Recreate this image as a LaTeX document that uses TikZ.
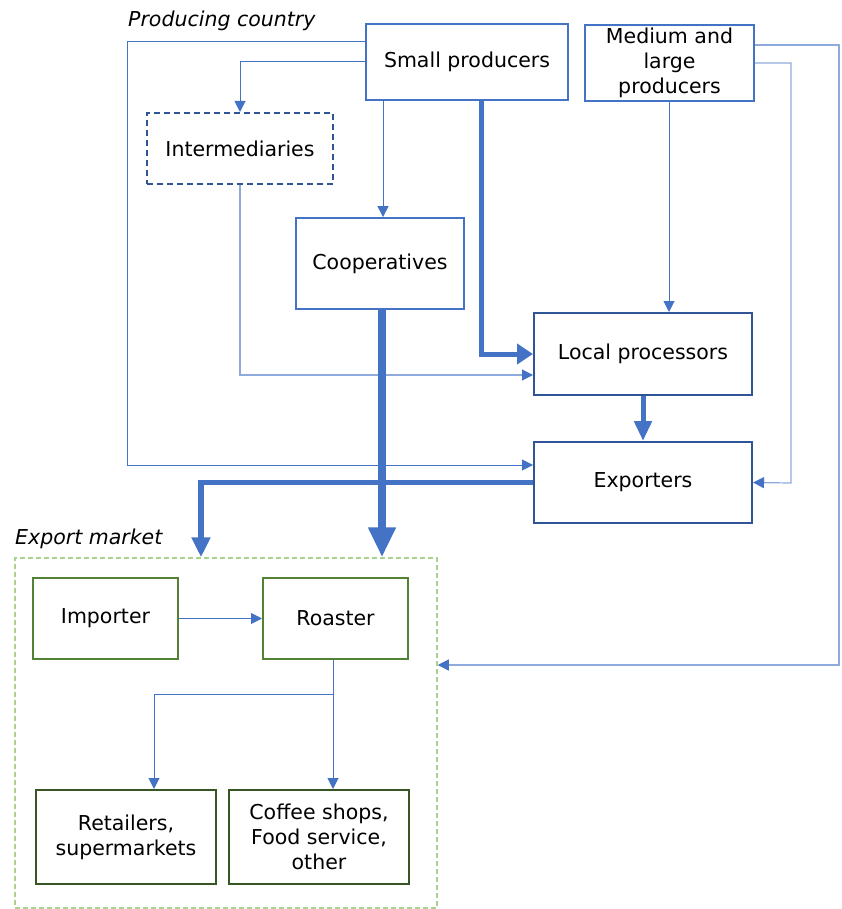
\documentclass[tikz,border=0pt]{standalone}
\usepackage{fontspec}
\setmainfont{DejaVu Sans}
\usetikzlibrary{positioning, arrows.meta}
\definecolor{chainblue}{HTML}{4472C4}
\definecolor{paleblue}{HTML}{8FAADC}
\definecolor{deepblue}{HTML}{2F5597}
\definecolor{leafgreen}{HTML}{548235}
\definecolor{darkgreen}{HTML}{375623}
\definecolor{palegreen}{HTML}{A9D18E}
\tikzset{
every node/.style={font=\fontsize{20.5}{25}\selectfont, inner sep=0pt},
bluebox/.style={draw=chainblue, line width=1.8pt, align=center},
deepbox/.style={draw=deepblue, line width=2pt, align=center},
greenbox/.style={draw=leafgreen, line width=2pt, align=center},
darkbox/.style={draw=darkgreen, line width=2pt, align=center},
region/.style={italic, anchor=west},
italic/.style={font=\fontsize{20.5}{25}\selectfont\itshape},
flow/.style={draw=chainblue, line width=1pt, -{Triangle[length=11pt,width=11pt]}},
paleflow/.style={draw=paleblue, line width=1.2pt, -{Triangle[length=11pt,width=11pt,color=chainblue]}},
bigflow/.style={draw=chainblue, line width=5.5pt, -{Triangle[length=19pt,width=19pt]}},
}

\begin{document}
\begin{tikzpicture}[x=1pt, y=-1pt]
    \useasboundingbox (0,0) rectangle (841,909);

    %producing country
    \node[region]                                        (pclabel) at (128,21) {Producing country};
    \node[bluebox, minimum width=202, minimum height=76] (sp) at (467,62) {Small producers};
    \node[bluebox, minimum width=169, minimum height=76] (ml) at (669.5,63) {Medium and\\large\\producers};
    \node[deepbox, dashed, dash pattern=on 6pt off 4pt,
          minimum width=186, minimum height=71]          (im) at (240,148.5) {Intermediaries};
    \node[bluebox, minimum width=168, minimum height=91] (co) at (380,263.5) {Cooperatives};
    \node[deepbox, minimum width=218, minimum height=82] (lp) at (643,354) {Local processors};
    \node[deepbox, minimum width=218, minimum height=81] (ex) at (643,482.5) {Exporters};

    %export market
    \node[region]                                        (emlabel) at (15,539) {Export market};
    \node[draw=palegreen, line width=1.5pt, dashed, dash pattern=on 5pt off 3pt,
          minimum width=422, minimum height=350]         (em) at (226,733) {};
    \node[greenbox, minimum width=145, minimum height=81] (imp) at (105.5,618.5) {Importer};
    \node[greenbox, minimum width=145, minimum height=81] (ro) at (335.5,618.5) {Roaster};
    \node[darkbox, minimum width=180, minimum height=94]  (rt) at (126,837) {Retailers,\\supermarkets};
    \node[darkbox, minimum width=180, minimum height=94]  (cs) at (319,837) {Coffee shops,\\Food service,\\other};
    \coordinate (split) at (334,694);

    %thin lines inside producing country
    \draw[flow] (sp.west |- 0,42) -| (127,465) -- (ex.west |- 0,465);
    \draw[flow] (sp.west) -| (im.north);
    \draw[flow] (sp.south -| 383,0) -- (co.north -| 383,0);
    \draw[paleflow] (im.south) |- (lp.west |- 0,375);
    \draw[flow] (ml.south -| 669,0) -- (lp.north -| 669,0);
    \draw[paleflow] (ml.east) -| (791,483) -- (ex.east);
    \draw[paleflow] (ml.east |- 0,45) -| (839,665) -- (em.east |- 0,665);

    %thick lines
    \draw[bigflow, line width=5pt, -{Triangle[length=16pt,width=20pt]}] (sp.south -| 481,0) |- (lp.west);
    \draw[bigflow, line width=5pt, -{Triangle[length=20pt,width=17pt]}] (lp.south) -- (ex.north);
    \draw[bigflow, line width=8pt, -{Triangle[length=30pt,width=26pt]}] (co.south -| 382,0) -- (em.north -| 382,0);
    \draw[bigflow, -{Triangle[length=20pt,width=18pt]}] (ex.west) -| (em.north -| 201,0);

    %export market lines
    \draw[flow] (imp.east) -- (ro.west);
    \draw[flow] (ro.south -| 333,0) -- (cs.north -| 333,0);
    \draw[flow] (split) -| (rt.north -| 154,0);

\end{tikzpicture}
\end{document}
